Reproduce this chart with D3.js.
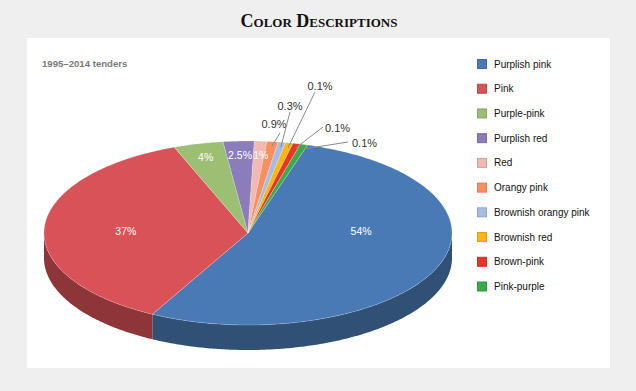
<!DOCTYPE html>
<html>
<head>
<meta charset="utf-8">
<script src="https://cdn.jsdelivr.net/npm/d3@7"></script>
<style>
  body { margin: 0; background: #efefef; }
  svg { display: block; }
</style>
</head>
<body>
<svg id="chart"></svg>
<script>
const categories = ["Purplish pink", "Pink", "Purple-pink", "Purplish red", "Red", "Orangy pink",
  "Brownish orangy pink", "Brownish red", "Brown-pink", "Pink-purple"]
const shares = [54, 37, 4, 2.5, 1, 0.9, 0.3, 0.1, 0.1, 0.1]
const shareLabels = ["54%", "37%", "4%", "2.5%", "1%", "0.9%", "0.3%", "0.1%", "0.1%", "0.1%"]
const sliceColors = ["#4a7ab5", "#d95257", "#9dbf73", "#8a7db9", "#f2b8b2", "#f7905e",
  "#a5bde6", "#fbb614", "#e8352a", "#3aaa4a"]

const width = 636, height = 391
const cx = 248, cy = 233, rx = 204, ry = 92, depth = 25
const startAngle = 17 * Math.PI / 180
const minShown = 0.6   // keep the tiny slices visible

// leader line ends for the outside labels, relative to the pie centre
const callouts = [
  { dx: 32, dy: -100, anchor: "middle", tx: -6, ty: -5 },
  { dx: 42, dy: -121, anchor: "middle", tx: 0, ty: -2 },
  { dx: 67, dy: -141, anchor: "middle", tx: 5, ty: -2 },
  { dx: 75, dy: -106, anchor: "start", tx: 2, ty: 1 },
  { dx: 100, dy: -91, anchor: "start", tx: 4, ty: 1 }
]

const svg = d3.select("#chart").attr("width", width).attr("height", height)

svg.append("rect").attr("width", width).attr("height", height).attr("fill", "#efefef")
svg.append("rect").attr("x", 27).attr("y", 38).attr("width", 583).attr("height", 330).attr("fill", "#fff")

svg.append("text")
  .attr("x", 319).attr("y", 27)
  .attr("text-anchor", "middle")
  .style("font-family", "'Liberation Serif', serif")
  .style("font-weight", "bold")
  .style("font-variant", "small-caps")
  .style("font-size", "18px")
  .style("fill", "#111")
  .text("Color Descriptions")

svg.append("text")
  .attr("x", 42).attr("y", 67)
  .style("font-family", "'Liberation Sans', Arial, sans-serif")
  .style("font-weight", "bold")
  .style("font-size", "9.6px")
  .style("fill", "#7a7a7a")
  .text("1995–2014 tenders")

const color = d3.scaleOrdinal().domain(categories).range(sliceColors)

const slices = d3.pie()
  .sort(null)
  .value(d => Math.max(d.value, minShown))
  .startAngle(startAngle)
  .endAngle(startAngle + 2 * Math.PI)(
    categories.map((c, i) => ({ name: c, value: shares[i], label: shareLabels[i] }))
  )

const pt = (a, k = 1, dy = 0) => [cx + k * rx * Math.sin(a), cy - k * ry * Math.cos(a) + dy]
const line = d3.line()

function arcPoints(a0, a1, dy = 0) {
  const n = Math.max(2, Math.ceil((a1 - a0) / 0.01))
  return d3.range(n + 1).map(i => pt(a0 + (a1 - a0) * i / n, 1, dy))
}

const pie = svg.append("g")

// side walls (only the front half is visible)
slices.forEach(s => {
  const a0 = Math.max(s.startAngle, Math.PI / 2)
  const a1 = Math.min(s.endAngle, 3 * Math.PI / 2)
  if (a1 <= a0) return
  const top = arcPoints(a0, a1)
  const bottom = arcPoints(a0, a1, depth).reverse()
  pie.append("path")
    .attr("d", line(top.concat(bottom)) + "Z")
    .attr("fill", d3.color(color(s.data.name)).darker(1.2))
})

// top faces
pie.selectAll(".top")
  .data(slices)
  .join("path")
  .attr("class", "top")
  .attr("d", s => line([[cx, cy]].concat(arcPoints(s.startAngle, s.endAngle))) + "Z")
  .attr("fill", s => color(s.data.name))
  .attr("stroke", "rgba(255,255,255,0.35)")
  .attr("stroke-width", 0.6)
  .attr("stroke-linejoin", "round")

// labels inside
const inside = slices.filter(s => s.data.value >= 1)
svg.selectAll(".in-label")
  .data(inside)
  .join("text")
  .attr("class", "in-label")
  .attr("x", s => {
    const mid = (s.startAngle + s.endAngle) / 2
    return pt(mid, s.data.value > 20 ? 0.6 : 0.85)[0] + (s.data.value < 2 ? 2 : 0)
  })
  .attr("y", s => {
    const mid = (s.startAngle + s.endAngle) / 2
    return s.data.value > 20 ? cy - 2 : pt(mid, 0.85)[1]
  })
  .attr("dy", "0.35em")
  .attr("text-anchor", "middle")
  .style("font-family", "'Liberation Sans', Arial, sans-serif")
  .style("font-size", "10.5px")
  .style("fill", "#fff")
  .text(s => s.data.label)

// labels outside with leader lines
const outside = slices.filter(s => s.data.value < 1)
outside.forEach((s, i) => {
  const mid = (s.startAngle + s.endAngle) / 2
  const p0 = pt(mid, 0.97, 2)
  const c = callouts[i]
  const p1 = [cx + c.dx, cy + c.dy]
  svg.append("path")
    .attr("d", line([p0, p1]))
    .attr("stroke", "#8a8a8a")
    .attr("stroke-width", 1)
    .attr("fill", "none")
  svg.append("text")
    .attr("x", p1[0] + c.tx)
    .attr("y", p1[1] + c.ty)
    .attr("text-anchor", c.anchor)
    .attr("dy", c.anchor === "start" ? "0.35em" : "0")
    .style("font-family", "'Liberation Sans', Arial, sans-serif")
    .style("font-size", "11px")
    .style("fill", "#333")
    .text(s.data.label)
})

// legend
const rowY = d3.scalePoint().domain(categories).range([64, 286.5])
const legend = svg.append("g").selectAll("g")
  .data(categories)
  .join("g")
  .attr("transform", d => `translate(477, ${rowY(d)})`)

legend.append("rect")
  .attr("x", 0.5).attr("y", -4.5)
  .attr("width", 9).attr("height", 9)
  .attr("fill", d => color(d))
  .attr("stroke", d => d3.color(color(d)).darker(0.4))
  .attr("stroke-width", 1)

legend.append("text")
  .attr("x", 17).attr("y", 0)
  .attr("dy", "0.35em")
  .style("font-family", "'Liberation Sans', Arial, sans-serif")
  .style("font-size", "10px")
  .style("fill", "#111")
  .text(d => d)
</script>
</body>
</html>
